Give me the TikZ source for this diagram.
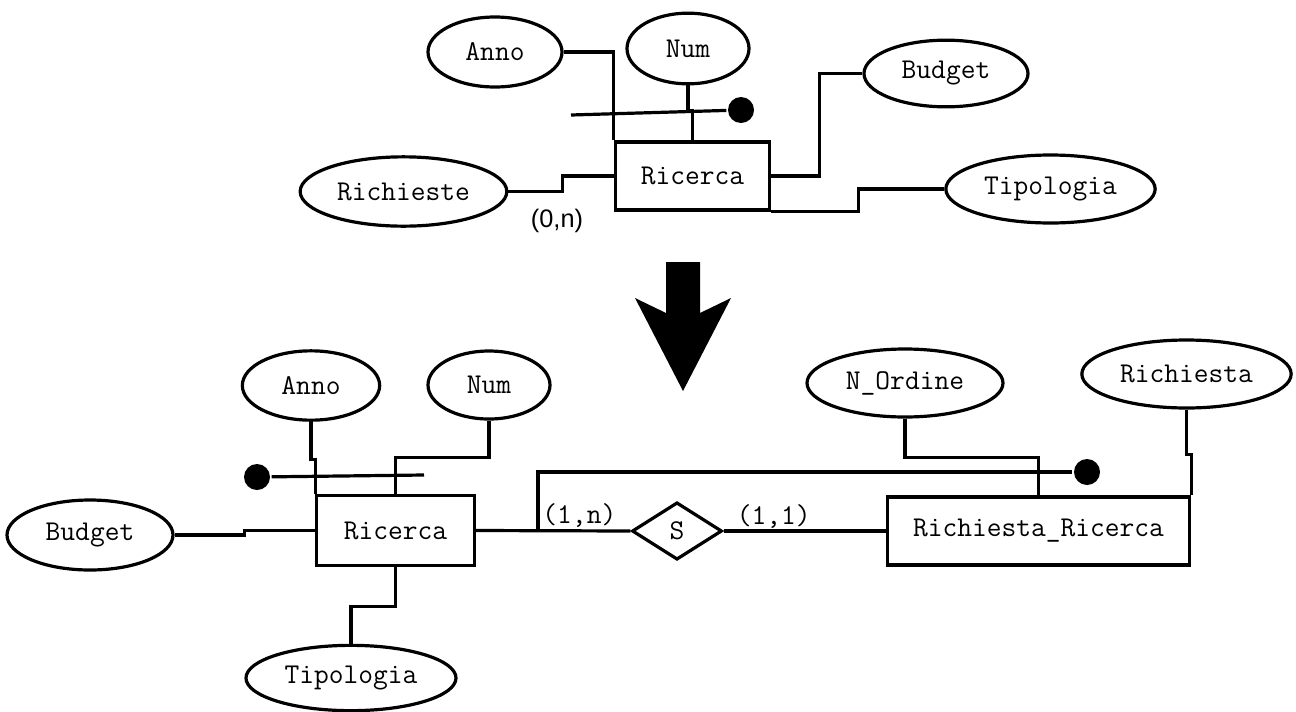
\documentclass[tikz,border=0pt]{standalone}
\usepackage{fontspec}
\newfontfamily\cardfont{Liberation Sans}
\usetikzlibrary{shapes.geometric}

\begin{document}
\begin{tikzpicture}[x=0.75pt,y=-0.75pt,line width=2.4pt,
    attr/.style={draw,ellipse,inner sep=0pt,font=\fontsize{21.5}{23}\ttfamily},
    ent/.style={draw,rectangle,inner sep=0pt,font=\fontsize{21.5}{23}\ttfamily},
    rel/.style={draw,diamond,inner sep=0pt,font=\fontsize{21.5}{23}\ttfamily},
    card/.style={inner sep=1pt,font=\fontsize{21.5}{23}\ttfamily},
    dot/.style={circle,fill,inner sep=0pt,minimum size=19.5pt}]
\useasboundingbox (0,0) rectangle (1296,711);

% schema before
\node[ent,minimum width=116pt,minimum height=51pt] (ric) at (692.5,176) {Ricerca};
\node[attr,minimum width=100.5pt,minimum height=52.5pt] (anno) at (495,52) {Anno};
\node[attr,minimum width=91.5pt,minimum height=53pt] (num) at (688,48.5) {Num};
\node[attr,minimum width=123pt,minimum height=50pt] (budget) at (946,73.5) {Budget};
\node[attr,minimum width=155pt,minimum height=52pt] (richieste) at (403.5,191.5) {Richieste};
\node[attr,minimum width=157pt,minimum height=51pt] (tipo) at (1050.5,189) {Tipologia};
\node[dot] (id) at (741,110) {};
\coordinate (idstart) at (571,115);
\node[card,font=\fontsize{19}{21}\cardfont] (card0n) at (557,221) {(0,n)};

\draw (anno.east) -| (ric.north west);
\draw (num.south) -- (688,111) -| (ric.north);
\draw (idstart) -- (id);
\draw (richieste.east) -- ++(54,0) |- (ric.west);
\draw (ric.east) -- ++(48,0) |- (budget.west);
\draw (ric.south east) -- ++(87,0) |- (tipo.west);

% freccia
\fill (666,262) -- (700,262) -- (700,313) -- (731,298) -- (683,391)
    -- (635,298) -- (666,313) -- cycle;

% schema after
\node[ent,minimum width=118pt,minimum height=52pt] (ric2) at (395.5,530.5) {Ricerca};
\node[rel,minimum width=67.5pt,minimum height=43pt] (s) at (677,531) {S};
\node[ent,minimum width=227pt,minimum height=51pt] (rr) at (1038.5,531) {Richiesta\_Ricerca};
\node[attr,minimum width=103pt,minimum height=52pt] (anno2) at (311,385.5) {Anno};
\node[attr,minimum width=91.5pt,minimum height=51pt] (num2) at (489,385) {Num};
\node[attr,minimum width=124.5pt,minimum height=52.5pt] (budget2) at (90,535) {Budget};
\node[attr,minimum width=157.5pt,minimum height=49pt] (tipo2) at (351,678) {Tipologia};
\node[attr,minimum width=147pt,minimum height=51pt] (nord) at (905,383) {N\_Ordine};
\node[attr,minimum width=157pt,minimum height=51pt] (rich) at (1186.5,374) {Richiesta};
\node[dot] (id2) at (257,477) {};
\coordinate (id2end) at (424,475);
\node[dot] (id3) at (1087,472) {};
\coordinate (ext) at (538,531);

\draw (anno2.south) -- ++(0,38) -| (ric2.north west);
\draw (num2.south) -- ++(0,37) -| (ric2.north);
\draw (id2) -- (id2end);
\draw (budget2.east) -- ++(70,0) |- (ric2.west);
\draw (ric2.south) -- ++(0,40) -| (tipo2.north);
\draw (ric2.east) -- node[card,pos=0.67,above] {(1,n)} (s.west);
\draw (s.east) -- node[card,pos=0.31,above] {(1,1)} (rr.west);
\draw (ext) |- (id3);
\draw (nord.south) -- ++(0,39) -| (rr.north);
\draw (rich.south) -- ++(0,45) -| (rr.north east);
\end{tikzpicture}
\end{document}
